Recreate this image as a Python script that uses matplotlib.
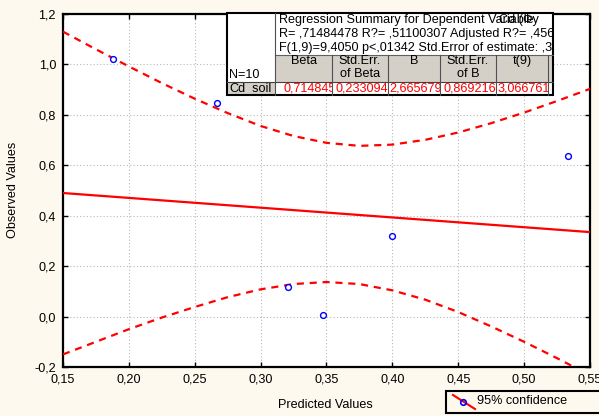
import numpy as np
import matplotlib
matplotlib.use("Agg")
import matplotlib.pyplot as plt
from matplotlib.patches import Rectangle
from matplotlib.lines import Line2D
from matplotlib.ticker import FuncFormatter
from matplotlib.transforms import Bbox

plt.rcParams["font.family"] = ["Liberation Sans", "DejaVu Sans"]

# observed vs predicted points
pred = [0.188, 0.267, 0.321, 0.347, 0.400, 0.533]
obs = [1.021, 0.847, 0.117, 0.006, 0.319, 0.637]

# regression line
fit_x = [0.15, 0.55]
fit_y = [0.490, 0.335]

# 95% confidence band, read at regular x steps
band_x = [0.150, 0.175, 0.200, 0.225, 0.250, 0.275, 0.300, 0.325, 0.350,
          0.375, 0.400, 0.425, 0.450, 0.475, 0.500, 0.525, 0.550]
band_up = [1.130, 1.060, 0.992, 0.926, 0.864, 0.807, 0.756, 0.716, 0.689,
           0.677, 0.682, 0.701, 0.730, 0.767, 0.809, 0.855, 0.903]
band_lo = [-0.150, -0.100, -0.050, -0.004, 0.038, 0.077, 0.108, 0.129, 0.137,
           0.129, 0.104, 0.067, 0.018, -0.039, -0.100, -0.165, -0.233]

x_ticks = [0.15, 0.20, 0.25, 0.30, 0.35, 0.40, 0.45, 0.50, 0.55]
y_ticks = [-0.2, 0.0, 0.2, 0.4, 0.6, 0.8, 1.0, 1.2]

# regression summary table
summary_lines = [
    "Regression Summary for Dependent Variable",
    "R= ,71484478 R?= ,51100307 Adjusted R?= ,45612845",
    "F(1,9)=9,4050 p<,01342 Std.Error of estimate: ,39123",
]
dep_var = "Cd (Фу"
n_label = "N=10"
col_names = ["Beta", "Std.Err.\nof Beta", "B", "Std.Err.\nof B", "t(9)", ""]
row_name = "Cd_soil"
row_values = ["0,714845", "0,233094", "2,665679", "0,869216", "3,066761", ""]

BG = "#FDF9EE"
GRAY = "#D4D0C8"
RED = "#FF0000"
FS = 9.1

W, H = 599, 416
fig = plt.figure(figsize=(W / 100, H / 100), dpi=100, facecolor=BG)

# main plot area in pixels: x 63..590, y 14..367
ax = fig.add_axes([63 / W, 1 - 367 / H, 527 / W, 353 / H])
ax.set_facecolor("white")

ax.plot(fit_x, fit_y, color=RED, lw=1.6, zorder=3)
ax.plot(band_x, band_up, color=RED, lw=1.6, ls=(0, (3.2, 2.6)), zorder=3)
ax.plot(band_x, band_lo, color=RED, lw=1.6, ls=(0, (3.2, 2.6)), zorder=3)
ax.plot(pred, obs, ls="none", marker="o", ms=4.2, mfc="white", mec="#0000FF",
        mew=1.0, zorder=4)

ax.set_xlim(0.15, 0.55)
ax.set_ylim(-0.2, 1.2)
ax.set_xticks(x_ticks)
ax.set_yticks(y_ticks)
ax.xaxis.set_major_formatter(FuncFormatter(lambda v, p: f"{v:.2f}".replace(".", ",")))
ax.yaxis.set_major_formatter(FuncFormatter(lambda v, p: f"{v:.1f}".replace(".", ",")))
ax.tick_params(direction="in", length=3.5, width=1, top=True, right=True,
               labelsize=FS, colors="black")
ax.tick_params(axis="x", pad=5)
ax.tick_params(axis="y", pad=5)
ax.grid(True, color="#B8B8B8", lw=0.8, ls=(0, (1, 2)))
for sp in ax.spines.values():
    sp.set_linewidth(1.6)
    sp.set_color("black")

fig.text(13 / W, 1 - 190 / H, "Observed Values", rotation=90, ha="center",
         va="center", fontsize=FS)
fig.text(325 / W, 1 - 405 / H, "Predicted Values", ha="center", va="center",
         fontsize=FS)

# overlay in pixel coordinates for table and legend
ov = fig.add_axes([0, 0, 1, 1], zorder=10)
ov.set_xlim(0, W)
ov.set_ylim(H, 0)
ov.axis("off")
ov.patch.set_visible(False)


def px_box(x0, y0, x1, y1):
    # pixel box (top-left origin) -> display bbox
    return Bbox.from_extents(x0, H - y1, x1, H - y0)


def clip_text(x, y, s, box, **kw):
    t = fig.text(x / W, 1 - y / H, s, fontsize=FS, zorder=20, **kw)
    t.set_clip_box(px_box(*box))
    t.set_clip_on(True)
    return t


tx0, tx1 = 227, 553
ty0, ty_hdr, ty_col, ty1 = 13, 55, 82, 95
col_edges = [275, 332, 388, 440, 496, 548, 553]
val_x = [283, 336, 389, 443, 497, 550]

ov.add_patch(Rectangle((tx0, ty0), tx1 - tx0, ty1 - ty0, fc="white", ec="none"))
ov.add_patch(Rectangle((col_edges[0], ty_hdr), tx1 - col_edges[0], ty_col - ty_hdr,
                       fc=GRAY, ec="none"))
ov.add_patch(Rectangle((tx0, ty_col), col_edges[0] - tx0, ty1 - ty_col,
                       fc=GRAY, ec="none"))

for i, line in enumerate(summary_lines):
    clip_text(279, 20.5 + i * 13.5, line, (275, ty0, tx1 - 1, ty_hdr),
              ha="left", va="center")
clip_text(499, 20.5, dep_var, (275, ty0, tx1 - 1, ty_hdr), ha="left", va="center")
clip_text(229, 75.5, n_label, (tx0, ty0, col_edges[0], ty_col), ha="left", va="center")

for i, name in enumerate(col_names):
    l, r = col_edges[i], col_edges[i + 1]
    clip_text((l + r) / 2, 55, name, (l, ty_hdr, r, ty_col), ha="center", va="top",
              linespacing=1.15)
clip_text(229, 88.5, row_name, (tx0, ty_col, col_edges[0], ty1), ha="left",
          va="center")
for i, v in enumerate(row_values):
    l, r = col_edges[i], col_edges[i + 1]
    clip_text(val_x[i], 88.5, v, (l, ty_col, r, ty1), ha="left", va="center",
              color=RED)

# grid lines of the table
ov.plot([col_edges[0], tx1], [ty_hdr, ty_hdr], color="#606060", lw=0.8)
ov.plot([tx0, tx1], [ty_col, ty_col], color="#404040", lw=0.8)
for e in col_edges[:-1]:
    y_top = ty0 if e == col_edges[0] else ty_hdr
    ov.plot([e, e], [y_top, ty1], color="#505050", lw=0.8)
ov.add_patch(Rectangle((tx0, ty0), tx1 - tx0, ty1 - ty0, fc="none", ec="black",
                       lw=1.5))

# legend box
ov.add_patch(Rectangle((446, 391), 170, 22, fc=BG, ec="black", lw=1.5,
                       clip_on=False))
ov.add_line(Line2D([453, 475], [395, 409], color=RED, lw=1.5))
ov.plot([463], [402], marker="o", ms=4, mfc="none", mec="#0000FF", mew=1.2)
ov.text(477, 401.5, "95% confidence", fontsize=FS, ha="left", va="center")

fig.savefig("out.png", dpi=100, facecolor=BG)
